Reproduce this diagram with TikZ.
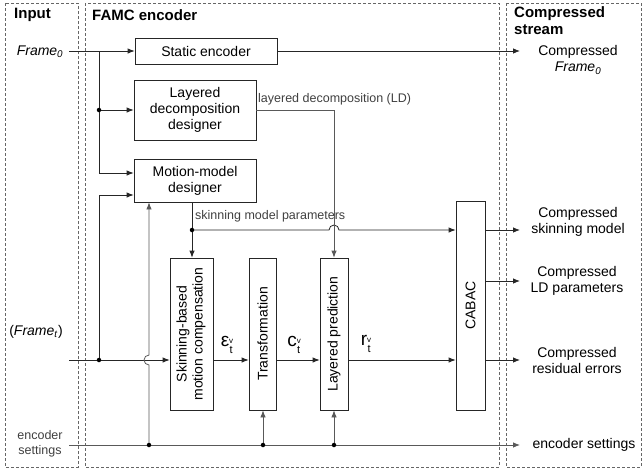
\documentclass[tikz,border=0pt]{standalone}
\usepackage{fontspec}
\setmainfont{Liberation Sans}
\usetikzlibrary{arrows,arrows.meta,positioning}
\newcommand{\symvt}[3]{#1\raisebox{-3.5pt}{\fontsize{11}{9}\selectfont\begin{tabular}{@{}c@{}}{\fontsize{8}{8}\selectfont #2}\\#3\end{tabular}}}

\begin{document}
\begin{tikzpicture}[x=1pt,y=-1pt,>={Latex[length=7pt,width=5.5pt]}]
                \tikzstyle{every node}+=[inner sep=0pt]
                \tikzstyle{frame}=[draw=black!60, line width=0.7pt, dash pattern=on 3pt off 2pt]
                \tikzstyle{title}=[font=\fontsize{15}{17}\selectfont\bfseries, align=left]
                \tikzstyle{box}=[draw=black!85, line width=0.8pt, font=\fontsize{14}{16}\selectfont, align=center]
                \tikzstyle{lbl}=[font=\fontsize{14}{16}\selectfont, align=center]
                \tikzstyle{note}=[font=\fontsize{12.5}{15}\selectfont, text=black!75, align=center]
                \tikzstyle{sym}=[font=\fontsize{19}{19}\selectfont]
                \tikzstyle{flow}=[draw=black!85, line width=0.8pt]
                \tikzstyle{aux}=[draw=black!65, line width=0.8pt]
                \tikzstyle{dot}=[circle, fill=black, minimum size=4.5pt]
                \useasboundingbox (0,0) rectangle (644,471);
                % frames
                \draw [frame] (5,3) rectangle (78,467);
                \draw [frame] (85,3) rectangle (499,467);
                \draw [frame] (506,3) rectangle (641,467);
                \node [title, anchor=west] (tin) at (14,15) {Input};
                \node [title, anchor=west] (tenc) at (92,15) {FAMC encoder};
                \node [title, anchor=north west] (tout) at (514,6) {Compressed\\stream};
                % blocks
                \node [box, minimum width=142pt, minimum height=26pt] (static) at (206,51) {Static encoder};
                \node [box, minimum width=122pt, minimum height=60pt] (ldd) at (195,110) {Layered\\decomposition\\designer};
                \node [box, minimum width=122pt, minimum height=43pt] (mmd) at (195,180.5) {Motion-model\\designer};
                \node [box, minimum width=43pt, minimum height=152pt] (smc) at (191.5,334) {\rotatebox{90}{\begin{tabular}{@{}c@{}}Skinning-based\\motion compensation\end{tabular}}};
                \node [box, minimum width=27pt, minimum height=152pt] (trans) at (262.5,334) {\rotatebox{90}{Transformation}};
                \node [box, minimum width=28pt, minimum height=152pt] (lpred) at (334,334) {\rotatebox{90}{Layered prediction}};
                \node [box, minimum width=29pt, minimum height=209pt] (cabac) at (470.5,305.5) {\rotatebox{90}{CABAC}};
                % inputs and outputs
                \node [lbl] (fr0) at (40,52) {\textit{Frame}\textsubscript{\textit{0}}};
                \node [lbl] (frt) at (36,332) {(\textit{Frame}\textsubscript{\textit{t}})};
                \node [note] (esl) at (40,444) {encoder\\settings};
                \node [lbl] (cf0) at (578,60) {Compressed\\\textit{Frame}\textsubscript{\textit{0}}};
                \node [lbl] (csm) at (578,222) {Compressed\\skinning model};
                \node [lbl] (cld) at (577,281) {Compressed\\LD parameters};
                \node [lbl] (cre) at (577,360) {Compressed\\residual errors};
                \node [lbl] (ces) at (584,445) {encoder settings};
                \coordinate (f0) at (69,51);
                \coordinate (ft) at (69,360);
                \coordinate (es) at (69,445);
                \coordinate (b0) at (99,51);
                \coordinate (bt) at (99,360);
                \coordinate (sk) at (192,230);
                \coordinate (e1) at (149,445);
                \coordinate (e2) at (263,445);
                \coordinate (e3) at (334,445);
                \coordinate (o0) at (520,51);
                \coordinate (o1) at (520,230);
                \coordinate (o2) at (520,281);
                \coordinate (o3) at (520,360);
                \coordinate (o4) at (520,445);
                % Frame_0
                \draw [flow,->] (f0) -- (static.west);
                \draw [flow,->] (static.east) -- (o0);
                \draw [flow,->] (b0) |- ([yshift=7.5pt]mmd.west);
                \draw [flow,->] (b0 |- ldd.west) -- (ldd.west);
                \node [dot] at (b0 |- ldd.west) {};
                % Frame_t
                \draw [flow,->] (ft) -- (smc.west |- ft);
                \draw [flow,->] (bt) |- ([yshift=-14.5pt]mmd.west);
                \node [dot] at (bt) {};
                % skinning model parameters
                \draw [flow] (sk |- mmd.south) -- (sk);
                \draw [flow,->] (sk) -- (sk |- smc.north);
                \draw [flow,->] (sk) -- ([xshift=-5pt]lpred.north |- sk) arc [start angle=180, end angle=0, radius=5pt] -- (cabac.west |- sk);
                \node [dot] at (sk) {};
                \node [note, anchor=west] (skl) at (195,216) {skinning model parameters};
                % layered decomposition
                \draw [aux,->] (ldd.east) -- (lpred.north |- ldd.east) -- (lpred.north);
                \node [note, anchor=west] (ldl) at (258,99) {layered decomposition (LD)};
                % residual chain
                \draw [flow,->] (smc.east |- ft) -- (trans.west |- ft);
                \draw [flow,->] (trans.east |- ft) -- (lpred.west |- ft);
                \draw [flow,->] (lpred.east |- ft) -- (cabac.west |- ft);
                \node [sym] (eps) at (227,346) {\symvt{ε}{v}{t}};
                \node [sym] (cvt) at (294,346) {\symvt{c}{v}{t}};
                \node [sym] (rvt) at (366,345) {\symvt{r}{v}{t}};
                % CABAC outputs
                \draw [flow,->] (cabac.east |- o1) -- (o1);
                \draw [flow,->] (cabac.east |- o2) -- (o2);
                \draw [flow,->] (cabac.east |- o3) -- (o3);
                % encoder settings
                \draw [aux,->] (es) -- (o4);
                \draw [aux,->] (e1) -- ([yshift=-5pt]e1 |- ft) arc [start angle=270, end angle=90, radius=5pt] -- (e1 |- mmd.south);
                \draw [aux,->] (e2) -- (e2 |- trans.south);
                \draw [aux,->] (e3) -- (e3 |- lpred.south);
                \node [dot] at (e1) {};
                \node [dot] at (e2) {};
                \node [dot] at (e3) {};
            \end{tikzpicture}
\end{document}
